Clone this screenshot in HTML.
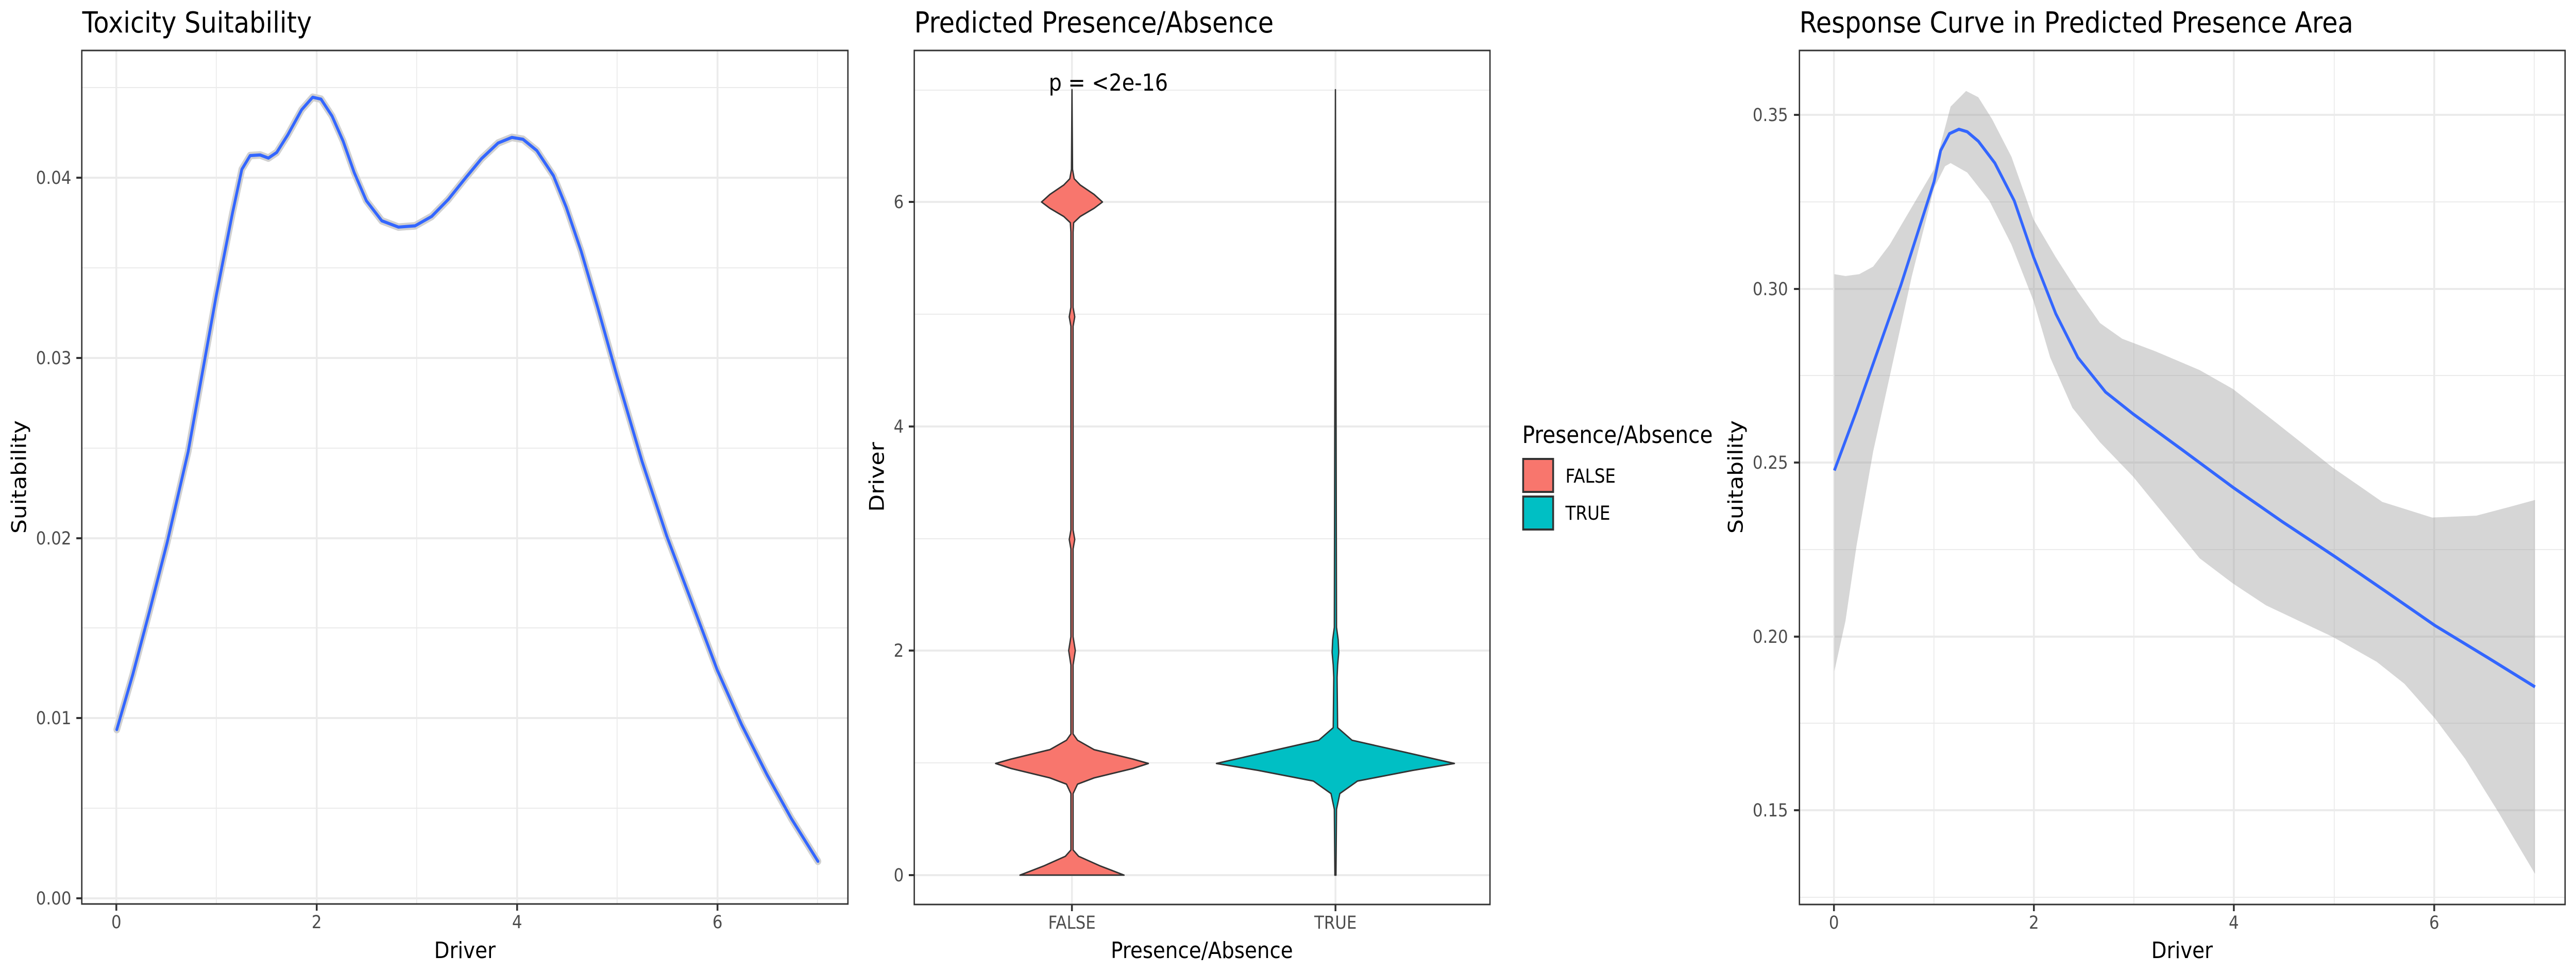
<!DOCTYPE html>
<html><head><meta charset="utf-8"><style>
html,body{margin:0;padding:0;background:#fff;width:100%;height:100%;overflow:hidden;}
svg{display:block;position:absolute;left:0;top:0;width:100vw;height:100vh;font-family:"DejaVu Sans","Liberation Sans",sans-serif;}
</style></head><body>
<svg viewBox="0 0 5669 1889" preserveAspectRatio="none" xmlns="http://www.w3.org/2000/svg">
<rect width="5669" height="1889" fill="#fff"/>

<!-- ============ PANEL 1 ============ -->
<g>
<g stroke="#EBEBEB" stroke-width="2">
<line x1="180" x2="1866" y1="1569" y2="1569"/><line x1="180" x2="1866" y1="1219" y2="1219"/>
<line x1="180" x2="1866" y1="870" y2="870"/><line x1="180" x2="1866" y1="520" y2="520"/>
<line x1="180" x2="1866" y1="170" y2="170"/>
<line y1="98" y2="1755" x1="476" x2="476"/><line y1="98" y2="1755" x1="917" x2="917"/>
<line y1="98" y2="1755" x1="1358" x2="1358"/><line y1="98" y2="1755" x1="1799" x2="1799"/>
</g>
<g stroke="#EBEBEB" stroke-width="4">
<line x1="180" x2="1866" y1="1744" y2="1744"/><line x1="180" x2="1866" y1="1394" y2="1394"/>
<line x1="180" x2="1866" y1="1045" y2="1045"/><line x1="180" x2="1866" y1="695" y2="695"/>
<line x1="180" x2="1866" y1="345" y2="345"/>
<line y1="98" y2="1755" x1="256" x2="256"/><line y1="98" y2="1755" x1="697" x2="697"/>
<line y1="98" y2="1755" x1="1138" x2="1138"/><line y1="98" y2="1755" x1="1579" x2="1579"/>
</g>
<g transform="scale(1.2179)" fill="none" stroke-linejoin="round" stroke-linecap="round">
<polyline stroke="#D0D0D0" stroke-width="12" points="211,1163 240,1075 270,975 302,865 340,720 391,470 420,340 437,270 452,248 470,247 485,252 500,243 520,215 545,175 565,155 580,158 600,185 620,225 640,275 662,320 690,352 720,362 750,360 780,345 810,318 840,285 870,253 900,228 925,219 945,222 970,240 1000,280 1023,330 1050,400 1080,490 1115,600 1160,735 1205,855 1250,960 1296,1068 1340,1155 1386,1235 1430,1305 1478,1373"/>
<polyline stroke="#3366FF" stroke-width="5" points="211,1163 240,1075 270,975 302,865 340,720 391,470 420,340 437,270 452,248 470,247 485,252 500,243 520,215 545,175 565,155 580,158 600,185 620,225 640,275 662,320 690,352 720,362 750,360 780,345 810,318 840,285 870,253 900,228 925,219 945,222 970,240 1000,280 1023,330 1050,400 1080,490 1115,600 1160,735 1205,855 1250,960 1296,1068 1340,1155 1386,1235 1430,1305 1478,1373"/>
</g>
<rect x="180" y="98" width="1686" height="1657" fill="none" stroke="#333" stroke-width="3"/>
<g stroke="#333" stroke-width="4">
<line x1="168" x2="180" y1="1744" y2="1744"/><line x1="168" x2="180" y1="1394" y2="1394"/>
<line x1="168" x2="180" y1="1045" y2="1045"/><line x1="168" x2="180" y1="695" y2="695"/>
<line x1="168" x2="180" y1="345" y2="345"/>
<line y1="1755" y2="1768" x1="256" x2="256"/><line y1="1755" y2="1768" x1="697" x2="697"/>
<line y1="1755" y2="1768" x1="1138" x2="1138"/><line y1="1755" y2="1768" x1="1579" x2="1579"/>
</g>
<g fill="#4D4D4D" font-size="35" text-anchor="end">
<text x="157" y="1756">0.00</text><text x="157" y="1406">0.01</text>
<text x="157" y="1057">0.02</text><text x="157" y="707">0.03</text><text x="157" y="357">0.04</text>
</g>
<g fill="#4D4D4D" font-size="35" text-anchor="middle">
<text x="256" y="1802">0</text><text x="697" y="1802">2</text><text x="1138" y="1802">4</text><text x="1579" y="1802">6</text>
</g>
<text x="1023" y="1860" font-size="44" text-anchor="middle">Driver</text>
<text transform="translate(57,926) rotate(-90)" font-size="44" text-anchor="middle">Suitability</text>
<text x="181" y="63" font-size="56">Toxicity Suitability</text>
</g>

<!-- ============ PANEL 2 ============ -->
<g>
<g stroke="#EBEBEB" stroke-width="2">
<line x1="2012" x2="3279" y1="1481" y2="1481"/><line x1="2012" x2="3279" y1="1046" y2="1046"/>
<line x1="2012" x2="3279" y1="610" y2="610"/><line x1="2012" x2="3279" y1="175" y2="175"/>
</g>
<g stroke="#EBEBEB" stroke-width="4">
<line x1="2012" x2="3279" y1="1699" y2="1699"/><line x1="2012" x2="3279" y1="1263" y2="1263"/>
<line x1="2012" x2="3279" y1="828" y2="828"/><line x1="2012" x2="3279" y1="392" y2="392"/>
<line y1="98" y2="1756" x1="2359" x2="2359"/><line y1="98" y2="1756" x1="2939" x2="2939"/>
</g>
<g transform="translate(1900,0) scale(1.2179)" stroke="#333" stroke-width="2.4" stroke-linejoin="round">
<path fill="#F8766D" d="M377,143 L378,270 L381,285 L392,295 L417,310 L432,322 L417,332 L392,345 L380,355 L379,370 L379,490 L382,505 L379,520 L379,845 L382,860 L379,875 L379,1015 L383,1037 L379,1060 L379,1170 L387,1180 L417,1195 L487,1210 L515,1217 L487,1225 L417,1240 L387,1250 L379,1265 L379,1355 L389,1365 L427,1380 L471,1395 L283,1395 L327,1380 L365,1365 L375,1355 L375,1265 L367,1250 L337,1240 L267,1225 L239,1217 L267,1210 L337,1195 L367,1180 L375,1170 L375,1060 L371,1037 L375,1015 L375,875 L372,860 L375,845 L375,520 L372,505 L375,490 L375,370 L374,355 L362,345 L337,332 L322,322 L337,310 L362,295 L373,285 L376,270 Z"/>
<path fill="#00BFC4" d="M853,143 L855,1000 L858,1020 L859,1040 L857,1060 L856,1080 L857,1160 L883,1180 L983,1200 L1068,1217 L993,1228 L893,1245 L861,1265 L855,1290 L854,1395 L852,1395 L851,1290 L845,1265 L813,1245 L713,1228 L638,1217 L723,1200 L823,1180 L849,1160 L850,1080 L849,1060 L847,1040 L848,1020 L851,1000 Z"/>
</g>
<rect x="2012" y="98" width="1267" height="1658" fill="none" stroke="#333" stroke-width="3"/>
<g stroke="#333" stroke-width="4">
<line x1="2000" x2="2012" y1="1699" y2="1699"/><line x1="2000" x2="2012" y1="1263" y2="1263"/>
<line x1="2000" x2="2012" y1="828" y2="828"/><line x1="2000" x2="2012" y1="392" y2="392"/>
<line y1="1756" y2="1769" x1="2359" x2="2359"/><line y1="1756" y2="1769" x1="2939" x2="2939"/>
</g>
<g fill="#4D4D4D" font-size="35" text-anchor="end">
<text x="1989" y="1711">0</text><text x="1989" y="1275">2</text><text x="1989" y="840">4</text><text x="1989" y="404">6</text>
</g>
<g fill="#4D4D4D" font-size="35" text-anchor="middle">
<text x="2359" y="1803">FALSE</text><text x="2939" y="1803">TRUE</text>
</g>
<text x="2645" y="1860" font-size="44" text-anchor="middle">Presence/Absence</text>
<text transform="translate(1945,926) rotate(-90)" font-size="44" text-anchor="middle">Driver</text>
<text x="2012" y="63" font-size="56">Predicted Presence/Absence</text>
<text x="2308" y="176" font-size="45">p = &lt;2e-16</text>
<text x="3350" y="860" font-size="46">Presence/Absence</text>
<rect x="3352" y="891" width="66" height="64" fill="#F8766D" stroke="#333" stroke-width="4"/>
<rect x="3352" y="964" width="66" height="64" fill="#00BFC4" stroke="#333" stroke-width="4"/>
<text x="3445" y="937" font-size="37">FALSE</text>
<text x="3445" y="1009" font-size="37">TRUE</text>
</g>

<!-- ============ PANEL 3 ============ -->
<g>
<g stroke="#EBEBEB" stroke-width="2">
<line x1="3960" x2="5645" y1="1742" y2="1742"/><line x1="3960" x2="5645" y1="1404" y2="1404"/>
<line x1="3960" x2="5645" y1="1067" y2="1067"/><line x1="3960" x2="5645" y1="729" y2="729"/>
<line x1="3960" x2="5645" y1="392" y2="392"/>
<line y1="98" y2="1756" x1="4256" x2="4256"/><line y1="98" y2="1756" x1="4696" x2="4696"/>
<line y1="98" y2="1756" x1="5137" x2="5137"/><line y1="98" y2="1756" x1="5577" x2="5577"/>
</g>
<g stroke="#EBEBEB" stroke-width="4">
<line x1="3960" x2="5645" y1="1573" y2="1573"/><line x1="3960" x2="5645" y1="1236" y2="1236"/>
<line x1="3960" x2="5645" y1="898" y2="898"/><line x1="3960" x2="5645" y1="561" y2="561"/>
<line x1="3960" x2="5645" y1="223" y2="223"/>
<line y1="98" y2="1756" x1="4036" x2="4036"/><line y1="98" y2="1756" x1="4476" x2="4476"/>
<line y1="98" y2="1756" x1="4916" x2="4916"/><line y1="98" y2="1756" x1="5357" x2="5357"/>
</g>
<g transform="translate(3769,0) scale(1.2179)">
<polygon fill="#999" fill-opacity="0.4" points="220,437 240,440 265,437 290,425 320,390 360,330 400,270 430,170 458,145 480,155 505,190 540,250 580,350 620,410 660,465 700,515 740,540 800,560 880,590 940,620 1020,675 1120,745 1210,800 1300,825 1380,822 1440,808 1486,797 1486,1393 1420,1295 1360,1210 1305,1145 1250,1090 1200,1055 1120,1015 1060,990 1000,965 940,930 880,890 820,825 760,760 700,705 650,650 610,570 580,480 540,390 500,320 460,275 430,260 420,265 400,300 360,440 320,600 290,720 260,870 240,990 220,1070"/>
<polyline fill="none" stroke="#3366FF" stroke-width="5" stroke-linejoin="round" points="220,750 260,655 300,555 340,455 380,345 400,290 412,240 428,213 445,206 460,210 480,225 510,260 545,320 580,410 620,500 660,570 710,625 760,660 850,718 942,778 1030,832 1124,887 1215,942 1305,997 1400,1048 1486,1095"/>
</g>
<rect x="3960" y="98" width="1685" height="1658" fill="none" stroke="#333" stroke-width="3"/>
<g stroke="#333" stroke-width="4">
<line x1="3948" x2="3960" y1="1573" y2="1573"/><line x1="3948" x2="3960" y1="1236" y2="1236"/>
<line x1="3948" x2="3960" y1="898" y2="898"/><line x1="3948" x2="3960" y1="561" y2="561"/>
<line x1="3948" x2="3960" y1="223" y2="223"/>
<line y1="1756" y2="1769" x1="4036" x2="4036"/><line y1="1756" y2="1769" x1="4476" x2="4476"/>
<line y1="1756" y2="1769" x1="4916" x2="4916"/><line y1="1756" y2="1769" x1="5357" x2="5357"/>
</g>
<g fill="#4D4D4D" font-size="35" text-anchor="end">
<text x="3935" y="1585">0.15</text><text x="3935" y="1248">0.20</text>
<text x="3935" y="910">0.25</text><text x="3935" y="573">0.30</text><text x="3935" y="235">0.35</text>
</g>
<g fill="#4D4D4D" font-size="35" text-anchor="middle">
<text x="4036" y="1803">0</text><text x="4476" y="1803">2</text><text x="4916" y="1803">4</text><text x="5357" y="1803">6</text>
</g>
<text x="4802" y="1860" font-size="44" text-anchor="middle">Driver</text>
<text transform="translate(3835,926) rotate(-90)" font-size="44" text-anchor="middle">Suitability</text>
<text x="3960" y="63" font-size="56">Response Curve in Predicted Presence Area</text>
</g>
</svg>
</body></html>
